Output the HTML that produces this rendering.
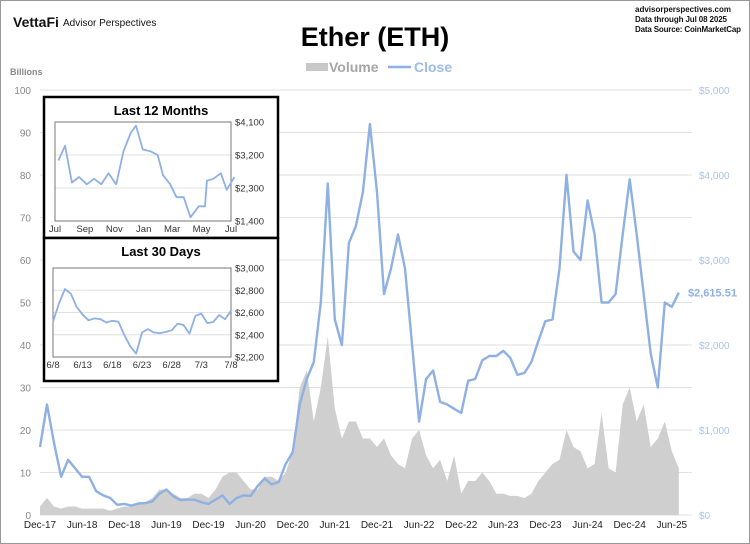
<!DOCTYPE html>
<html><head><meta charset="utf-8"><style>
body{margin:0;background:#fff;}
#wrap{position:relative;width:750px;height:544px;overflow:hidden;font-family:"Liberation Sans",sans-serif;}
svg text{font-family:"Liberation Sans",sans-serif;}
</style></head><body>
<div id="wrap">
<svg id="svg" width="750" height="544" viewBox="0 0 750 544">
<rect x="0.5" y="0.5" width="749" height="543" fill="#fff" stroke="#999"/>
<text x="13" y="27" font-size="14" font-weight="bold" fill="#111">VettaFi</text>
<text x="63" y="26" font-size="10" fill="#111">Advisor Perspectives</text>
<text x="375" y="46" font-size="27" font-weight="bold" text-anchor="middle" fill="#000">Ether (ETH)</text>
<text x="635" y="12" font-size="8" font-weight="bold" fill="#111" textLength="96">advisorperspectives.com</text>
<text x="635" y="22" font-size="8" font-weight="bold" fill="#111" textLength="92">Data through Jul 08 2025</text>
<text x="635" y="32" font-size="8" font-weight="bold" fill="#111" textLength="106">Data Source: CoinMarketCap</text>
<g>
<rect x="306" y="63" width="22" height="8" fill="#c8c8c8"/>
<text x="329" y="72" font-size="14" font-weight="bold" fill="#a6a6a6">Volume</text>
<line x1="388" y1="67" x2="411" y2="67" stroke="#8fb0e3" stroke-width="2.5"/>
<text x="414" y="72" font-size="14" font-weight="bold" fill="#9dbae8">Close</text>
</g>
<text x="10" y="75" font-size="9" font-weight="bold" fill="#888">Billions</text>
<g id="grid"></g><g id="vol"></g><g id="close"></g><g id="axes"></g>
<g id="inset1"></g><g id="inset2"></g>
</svg>
</div>
<script>
// Main chart data: monthly, Dec-2017 .. Jul-2025
const volumeBillions=[2,
4,2,1.5,2,2,1.5,1.5,1.5,1.5,1,1.5,2,
2,2.5,3,4,6,6,5,4,4,5,5,4,
6,9,10,10,8,6,6,9,9,8,10,15,
30,34,22,30,42,25,18,22,22,18,18,16,
18,14,12,11,18,20,14,11,13,8,14,5,
8,8,10,8,5,5,4.5,4.5,4,5,8,10,
12,13,20,16,15,11,12,24,11,10,26,30,
22,26,16,18,22,15,11];
const closePrice=[800,
1300,850,450,650,550,450,450,280,230,200,120,130,
110,135,140,160,250,300,220,175,180,180,150,130,
180,230,130,200,230,225,340,430,360,390,600,740,
1300,1600,1800,2500,3900,2300,2000,3200,3400,3800,4600,3800,
2600,2900,3300,2900,2000,1100,1600,1700,1330,1300,1250,1200,
1580,1600,1820,1870,1870,1930,1850,1650,1670,1800,2050,2280,
2300,2900,4000,3100,3000,3700,3300,2500,2500,2600,3300,3950,
3300,2600,1900,1500,2500,2450,2615];
const xTickLabels=["Dec-17","Jun-18","Dec-18","Jun-19","Dec-19","Jun-20","Dec-20","Jun-21","Dec-21","Jun-22","Dec-22","Jun-23","Dec-23","Jun-24","Dec-24","Jun-25"];
const leftTicks=[0,10,20,30,40,50,60,70,80,90,100];
const rightTicks=[0,1000,2000,3000,4000,5000];
const rightTickLabels=["$0","$1,000","$2,000","$3,000","$4,000","$5,000"];
const lastCloseLabel="$2,615.51";
// Inset 1: last 12 months (day offset from Jul 1 2024, price)
const m12Days=[7,21,35,50,66,81,96,111,127,142,157,168,182,198,213,224,239,252,267,281,298,311,315,328,344,356,372];
const m12Price=[3050,3450,2450,2600,2400,2550,2400,2700,2400,3300,3800,4000,3350,3300,3200,2650,2400,2050,2050,1500,1800,1800,2500,2550,2700,2250,2600];
const m12Labels=["Jul","Sep","Nov","Jan","Mar","May","Jul"];
const m12TickDays=[0,62,123,184,243,304,365];
const m12YTicks=[1400,2300,3200,4100];
const m12YLabels=["$1,400","$2,300","$3,200","$4,100"];
// Inset 2: last 30 days
const d30Price=[2517,2680,2810,2770,2650,2580,2530,2547,2540,2510,2525,2518,2400,2300,2230,2420,2450,2420,2415,2425,2440,2500,2488,2410,2570,2590,2505,2515,2577,2540,2615];
const d30Labels=["6/8","6/13","6/18","6/23","6/28","7/3","7/8"];
const d30TickDays=[0,5,10,15,20,25,30];
const d30YTicks=[2200,2400,2600,2800,3000];
const d30YLabels=["$2,200","$2,400","$2,600","$2,800","$3,000"];

const NS="http://www.w3.org/2000/svg";
function mk(tag,attrs,parent,text){const e=document.createElementNS(NS,tag);for(const k in attrs)e.setAttribute(k,attrs[k]);if(text!==undefined)e.textContent=text;parent.appendChild(e);return e;}
const xM=i=>40+i*7.02;
const yV=v=>515-v*4.25;
const yP=p=>515-p*0.085;
const grid=document.getElementById('grid');
leftTicks.forEach(t=>{
  const l=mk('line',{x1:40,x2:692,y1:yV(t),y2:yV(t),stroke:'#e2e2e2','stroke-width':1},grid);
  
  
  const tx=mk('text',{x:31,y:yV(t)+4,'font-size':10,fill:'#888','text-anchor':'end'},grid,String(t));
  
  
});
rightTicks.forEach((t,i)=>{
  const tx=mk('text',{x:699,y:yP(t)+4,'font-size':10,fill:'#a9c3ec'},grid,rightTickLabels[i]);
  
  
});
// volume area
let d='M'+xM(0)+','+yV(0);
volumeBillions.forEach((v,i)=>{d+=' L'+xM(i).toFixed(1)+','+yV(v).toFixed(1);});
d+=' L'+xM(volumeBillions.length-1)+','+yV(0)+' Z';
const va=mk('path',{d:d,fill:'#cfcfcf'},document.getElementById('vol'));


// close line
let pts=closePrice.map((p,i)=>xM(i).toFixed(1)+','+yP(p).toFixed(1)).join(' ');
const cl=mk('polyline',{points:pts,fill:'none',stroke:'#8fb0e3','stroke-width':2.4,'stroke-linejoin':'round'},document.getElementById('close'));


const axes=document.getElementById('axes');
xTickLabels.forEach((s,i)=>{
  const tx=mk('text',{x:xM(i*6),y:528,'font-size':10,fill:'#222','text-anchor':'middle'},axes,s);
  
  
});
const lc=mk('text',{x:688,y:yP(closePrice[closePrice.length-1])+4,'font-size':11,'font-weight':'bold',fill:'#8fb0e3'},axes,lastCloseLabel);



function inset(g,box,title,plot,xs,vals,yMin,yMax,yTicks,yLabels,xTickPos,xLabels,xMax,nm){
  const r=mk('rect',{x:box[0],y:box[1],width:box[2],height:box[3],fill:'#fff',stroke:'#000','stroke-width':2.5},g);
  
  
  const t=mk('text',{x:box[0]+box[2]/2,y:box[1]+18,'font-size':13,'font-weight':'bold','text-anchor':'middle',fill:'#000'},g,title);
  
  
  const [px,py,pw,ph]=plot;
  const fx=v=>px+v/xMax*pw, fy=v=>py+ph-(v-yMin)/(yMax-yMin)*ph;
  yTicks.forEach((v,i)=>{
    const gl=mk('line',{x1:px,x2:px+pw,y1:fy(v),y2:fy(v),stroke:'#e0e0e0'},g);
    
    
    const tl=mk('text',{x:px+pw+4,y:fy(v)+3.5,'font-size':9.5,fill:'#333'},g,yLabels[i]);
    
    
  });
  const fr=mk('rect',{x:px,y:py,width:pw,height:ph,fill:'none',stroke:'#777','stroke-width':1},g);
  
  
  xTickPos.forEach((v,i)=>{
    const tl=mk('text',{x:fx(v),y:py+ph+11,'font-size':9.5,fill:'#333','text-anchor':'middle'},g,xLabels[i]);
    
    
  });
  const p=mk('polyline',{points:vals.map((v,i)=>fx(xs[i]).toFixed(1)+','+fy(v).toFixed(1)).join(' '),fill:'none',stroke:'#8fb0e3','stroke-width':1.8,'stroke-linejoin':'round'},g);
  
  
}
inset(document.getElementById('inset1'),[44,97,234,141],'Last 12 Months',[55,122,176,99],m12Days,m12Price,1400,4100,m12YTicks,m12YLabels,m12TickDays,m12Labels,365,'inset-12-months');
inset(document.getElementById('inset2'),[44,238,234,143],'Last 30 Days',[53,268,178,89],d30Price.map((v,i)=>i),d30Price,2200,3000,d30YTicks,d30YLabels,d30TickDays,d30Labels,30,'inset-30-days');
</script>
</body></html>
